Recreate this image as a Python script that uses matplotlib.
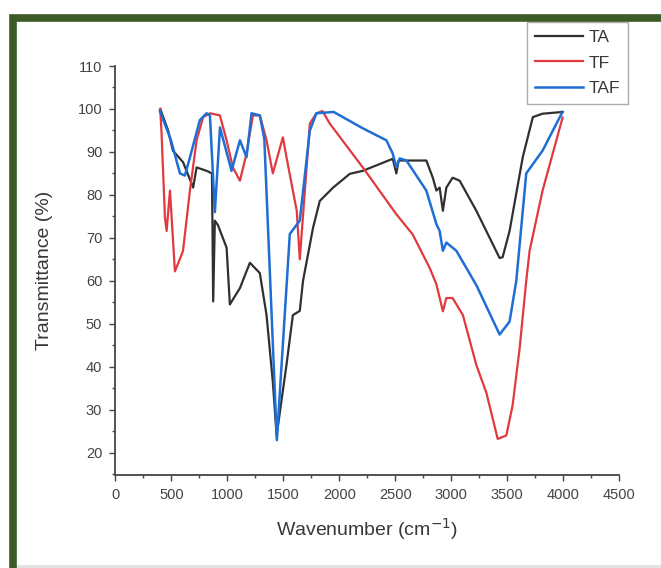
import matplotlib.pyplot as plt
from matplotlib.patches import Rectangle

plt.rcParams['font.family'] = ['Liberation Sans', 'DejaVu Sans']

# TA
ta_x = [400, 470, 513, 604, 694, 725, 814, 862, 873, 888, 915, 993, 1022, 1112, 1201,
        1290, 1350, 1406, 1440, 1528, 1585, 1647, 1676, 1766, 1826, 1945, 2094, 2210,
        2478, 2510, 2530, 2600, 2778, 2836, 2868, 2897, 2926, 2957, 3013, 3076, 3225,
        3433, 3460, 3522, 3640, 3730, 3817, 3996]
ta_y = [100, 95, 90.3, 87.6, 81.7, 86.4, 85.6, 85, 55.2, 74, 73, 67.7, 54.5, 58.3, 64.2,
        61.8, 52, 36.5, 24, 40.4, 52, 53, 60, 72.4, 78.6, 81.7, 84.9, 85.6,
        88.4, 85, 88, 88, 88, 84, 81, 81.7, 76.3, 81.7, 84, 83.3, 76.3,
        65.3, 65.5, 71.6, 88.8, 98.1, 98.9, 99.3]

# TF
tf_x = [400, 412, 442, 457, 487, 531, 603, 665, 725, 783, 844, 933, 993, 1049, 1112,
        1171, 1228, 1290, 1350, 1406, 1496, 1528, 1585, 1620, 1647, 1737, 1796, 1850,
        1915, 2210, 2510, 2656, 2808, 2868, 2926, 2957, 3013, 3105, 3225, 3314, 3416,
        3493, 3549, 3612, 3671, 3701, 3817, 3996]
tf_y = [100, 94.2, 74.7, 71.6, 81, 62.2, 66.9, 81, 92.7, 98.1, 99, 98.5, 92.7, 86.4, 83.3,
        89.6, 98.5, 98.5, 92.7, 85, 93.4, 88.8, 81, 76.3, 65, 96.6, 99, 99.5,
        96.6, 86.4, 75.5, 70.8, 63, 59.2, 52.9, 56, 56, 52, 40.4, 34, 23.2,
        24, 31, 44.3, 60, 67, 81, 98]

# TAF
taf_x = [397, 496, 576, 620, 665, 754, 814, 844, 888, 934, 1037, 1112, 1171, 1216, 1290,
         1330, 1442, 1558, 1647, 1737, 1796, 1950, 2210, 2421, 2478, 2510, 2540, 2600,
         2778, 2868, 2897, 2926, 2957, 3046, 3225, 3433, 3522, 3582, 3671, 3817, 3969,
         3996]
taf_y = [99.5, 92.7, 85, 84.5, 88.7, 97.4, 99, 98.5, 76, 95.7, 85.6, 92.7, 88.8, 99, 98.5,
         93, 22.9, 70.9, 74, 95, 99, 99.3, 95.5, 92.7, 89.6, 86.4, 88.5, 88,
         81, 73.2, 71.6, 67, 68.9, 67, 59, 47.5, 50.5, 60, 85, 90.3, 98, 99.3]

fig = plt.figure(figsize=(6.61, 5.68), dpi=100)

# dark green frame around the picture, light grey strip at the bottom
fig.patches.append(Rectangle((13.5 / 661, -0.05), 1.2, 1 - 17.5 / 568 + 0.05,
                             transform=fig.transFigure, fill=False,
                             edgecolor='#3d5a27', linewidth=5.5, zorder=0))
fig.patches.append(Rectangle((17 / 661, 0), 1, 3 / 568, transform=fig.transFigure,
                             facecolor='#e2e2e2', edgecolor='none', zorder=1))

ax = fig.add_axes([115.5 / 661, 93 / 568, (619 - 115.5) / 661, (475 - 66) / 568])
ax.plot(ta_x, ta_y, color='#303030', lw=1.6, label='TA')
ax.plot(tf_x, tf_y, color='#e0393e', lw=1.6, label='TF')
ax.plot(taf_x, taf_y, color='#1f6ed4', lw=1.8, label='TAF')

ax.set_xlim(0, 4500)
ax.set_ylim(14.8, 110)
ax.set_xticks(range(0, 4501, 500))
ax.set_xticks(range(0, 4501, 250), minor=True)
ax.set_yticks(range(20, 111, 10))
ax.set_yticks(range(15, 111, 5), minor=True)
ax.spines['top'].set_visible(False)
ax.spines['right'].set_visible(False)
for s in ['left', 'bottom']:
    ax.spines[s].set_color('#444444')
    ax.spines[s].set_linewidth(1.3)
ax.tick_params(which='major', length=4.5, width=1, color='#444444', labelsize=10.5,
               labelcolor='#444444', pad=5)
ax.tick_params(which='minor', length=2.5, width=1, color='#444444')

ax.set_xlabel('Wavenumber (cm$^{-1}$)', fontsize=14, color='#383838', labelpad=10)
ax.set_ylabel('Transmittance (%)', fontsize=14, color='#383838', labelpad=18)

leg = ax.legend(loc='upper right', bbox_to_anchor=(628 / 661, 1 - 22 / 568),
                bbox_transform=fig.transFigure, fontsize=12.5, frameon=True,
                fancybox=False, edgecolor='#999999', handlelength=2.8,
                handletextpad=0.3, borderpad=0.45, labelspacing=0.6,
                borderaxespad=0, labelcolor='#383838')
leg.get_frame().set_linewidth(1)

fig.savefig('out.png', dpi=100)
